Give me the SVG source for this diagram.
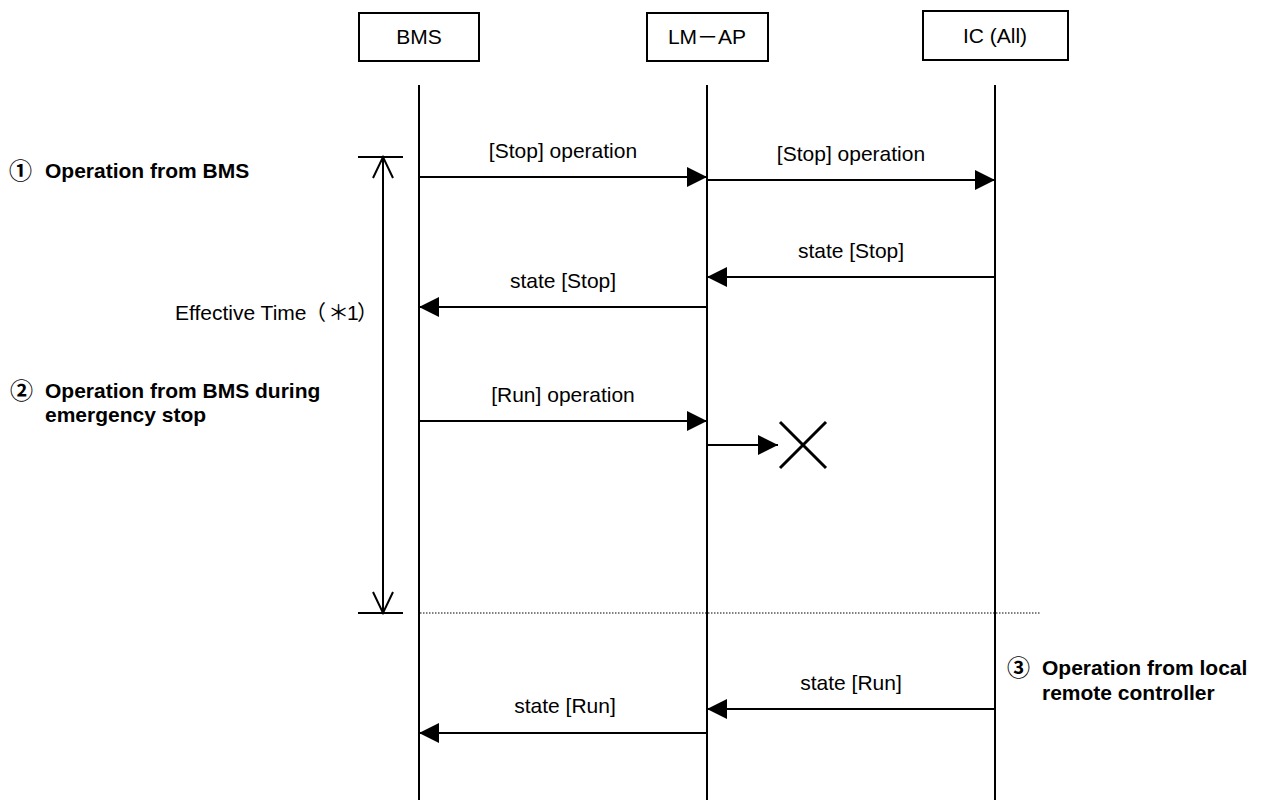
<svg xmlns="http://www.w3.org/2000/svg" width="1261" height="800" viewBox="0 0 1261 800">
<style>
text{font-family:"Liberation Sans","Noto Sans CJK JP",Arial,sans-serif;font-size:21px;fill:#000}
.b{font-weight:bold}
.c{text-anchor:middle}
.num{font-family:"Noto Sans CJK JP","DejaVu Sans",sans-serif;font-size:23px;font-weight:bold}
.box{fill:#fff;stroke:#000;stroke-width:2}
.life{stroke:#000;stroke-width:2;fill:none}
.msg{stroke:#000;stroke-width:2;fill:none;marker-end:url(#ah)}
.thin{stroke:#000;stroke-width:2;fill:none}
</style>
<defs>
<marker id="ah" markerUnits="userSpaceOnUse" markerWidth="20" markerHeight="20" refX="20" refY="10" orient="auto">
<path d="M0,0 L20,10 L0,20 Z" fill="#000"/>
</marker>
</defs>
<rect width="1261" height="800" fill="#fff"/>
<g id="node-bms">
<rect class="box" x="359" y="13" width="120" height="48"/>
<text class="c" x="419" y="44">BMS</text>
<line class="life" x1="419" y1="85" x2="419" y2="800"/>
</g>
<g id="node-lmap">
<rect class="box" x="647" y="13" width="121" height="48"/>
<text class="c" x="707" y="44">LM－AP</text>
<line class="life" x1="707" y1="85" x2="707" y2="800"/>
</g>
<g id="node-ic">
<rect class="box" x="923" y="11" width="145" height="49"/>
<text class="c" x="995" y="43">IC (All)</text>
<line class="life" x1="995" y1="85" x2="995" y2="800"/>
</g>
<g id="connectors">
<line class="msg" x1="419" y1="177" x2="707" y2="177"/>
<text class="c" x="563" y="158">[Stop] operation</text>
<line class="msg" x1="707" y1="180" x2="995" y2="180"/>
<text class="c" x="851" y="161">[Stop] operation</text>
<line class="msg" x1="995" y1="277" x2="707" y2="277"/>
<text class="c" x="851" y="258">state [Stop]</text>
<line class="msg" x1="707" y1="307" x2="419" y2="307"/>
<text class="c" x="563" y="288">state [Stop]</text>
<line class="msg" x1="419" y1="421" x2="707" y2="421"/>
<text class="c" x="563" y="402">[Run] operation</text>
<line class="msg" x1="707" y1="445" x2="778" y2="445"/>
<line class="msg" x1="995" y1="709" x2="707" y2="709"/>
<text class="c" x="851" y="690">state [Run]</text>
<line class="msg" x1="707" y1="733" x2="419" y2="733"/>
<text class="c" x="565" y="713">state [Run]</text>
</g>
<g id="reject">
<line x1="780" y1="422" x2="826" y2="468" stroke="#000" stroke-width="3"/>
<line x1="826" y1="422" x2="780" y2="468" stroke="#000" stroke-width="3"/>
</g>
<g id="effective-time">
<line class="thin" x1="358" y1="157" x2="403" y2="157"/>
<line class="thin" x1="383" y1="157" x2="383" y2="613"/>
<polyline class="thin" points="373,178 383,157 393,178"/>
<line class="thin" x1="358" y1="613" x2="403" y2="613"/>
<polyline class="thin" points="373,592 383,613 393,592"/>
<text x="175" y="320">Effective Time<tspan x="305">（</tspan><tspan x="328">＊</tspan><tspan x="347">1</tspan><tspan x="357">）</tspan></text>
</g>
<line x1="420" y1="613" x2="1041" y2="613" stroke="#000" stroke-width="1" stroke-dasharray="1.5 1.5"/>
<g id="label-1">
<text class="num" x="9" y="179">①</text>
<text class="b" x="45" y="178">Operation from BMS</text>
</g>
<g id="label-2">
<text class="num" x="10" y="399">②</text>
<text class="b" x="45" y="398">Operation from BMS during</text>
<text class="b" x="45" y="422">emergency stop</text>
</g>
<g id="label-3">
<text class="num" x="1007" y="676">③</text>
<text class="b" x="1042" y="675">Operation from local</text>
<text class="b" x="1042" y="700">remote controller</text>
</g>
</svg>
